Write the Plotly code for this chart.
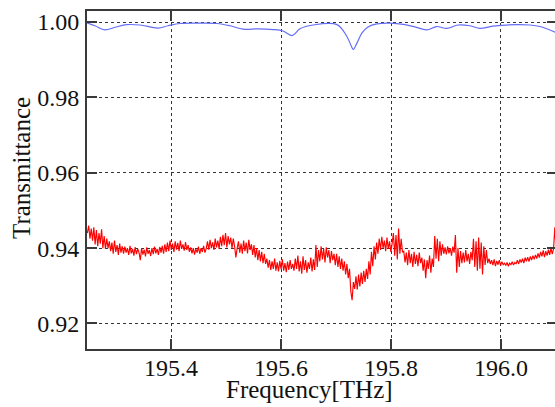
import plotly.graph_objects as go

# ---------------- data ----------------
blue_freq = [195.2466, 195.2612, 195.2794, 195.2976, 195.3194, 195.3430, 195.3758, 195.3940,
             195.4158, 195.4522, 195.4832, 195.5068, 195.5305, 195.5578, 195.5851, 195.6033,
             195.6197, 195.6342, 195.6579, 195.7016, 195.7198, 195.7279, 195.7312, 195.7379,
             195.7471, 195.7580, 195.7744, 195.7980, 195.8253, 195.8435, 195.8648, 195.8830,
             195.9012, 195.9218, 195.9436, 195.9618, 195.9854, 196.0286, 196.0528, 196.0710,
             196.0983]
blue_T = [0.9998, 0.9990, 0.9979, 0.9986, 0.9993, 0.9992, 0.9984, 0.9990,
          0.9996, 0.9997, 0.9996, 0.9990, 0.9981, 0.9982, 0.9980, 0.9976,
          0.9964, 0.9982, 0.9992, 0.9993, 0.9961, 0.9935, 0.9927, 0.9944,
          0.9971, 0.9987, 0.9995, 0.9997, 0.9993, 0.9987, 0.9979, 0.9988,
          0.9983, 0.9992, 0.9990, 0.9983, 0.9989, 0.9993, 0.9992, 0.9988,
          0.9973]

red_freq_start = 195.2473
red_freq_step = 0.00235
red_T = [
    0.9440, 0.9460, 0.9425, 0.9452, 0.9420,
    0.9455, 0.9410, 0.9448, 0.9405, 0.9440, 0.9412, 0.9450, 0.9400,
    0.9432, 0.9398, 0.9425, 0.9400, 0.9418,
    0.9392, 0.9415, 0.9385, 0.9420, 0.9390, 0.9408, 0.9382, 0.9412, 0.9388, 0.9405,
    0.9385, 0.9404, 0.9388, 0.9400, 0.9382, 0.9406, 0.9386, 0.9398, 0.9380, 0.9403, 0.9384, 0.9398, 0.9388,
    0.9368,
    0.9400, 0.9383, 0.9396, 0.9378, 0.9402, 0.9385, 0.9395, 0.9379, 0.9400, 0.9384,
    0.9404, 0.9386, 0.9398, 0.9382, 0.9403, 0.9388, 0.9406, 0.9385, 0.9410, 0.9390,
    0.9415, 0.9392, 0.9420, 0.9395, 0.9412, 0.9390, 0.9418, 0.9396, 0.9414, 0.9392,
    0.9420, 0.9398, 0.9410, 0.9393, 0.9416, 0.9395, 0.9408, 0.9390,
    0.9402, 0.9386, 0.9400, 0.9383, 0.9398, 0.9388, 0.9404, 0.9385, 0.9400, 0.9390,
    0.9406, 0.9388, 0.9398,
    0.9418, 0.9396, 0.9422, 0.9400, 0.9415, 0.9395, 0.9425, 0.9402, 0.9420, 0.9398,
    0.9430, 0.9405, 0.9435, 0.9408, 0.9440, 0.9402, 0.9432, 0.9410, 0.9428, 0.9400, 0.9425, 0.9405,
    0.9375, 0.9400,
    0.9418, 0.9388, 0.9412, 0.9385, 0.9420, 0.9392, 0.9415, 0.9386, 0.9422, 0.9395, 0.9410,
    0.9382, 0.9408, 0.9375, 0.9400, 0.9368, 0.9395, 0.9365, 0.9390, 0.9360, 0.9385, 0.9358,
    0.9372, 0.9348, 0.9368, 0.9342, 0.9365, 0.9345, 0.9372, 0.9340, 0.9362, 0.9338,
    0.9366, 0.9344, 0.9370, 0.9340, 0.9360, 0.9336, 0.9364, 0.9342, 0.9368, 0.9345, 0.9358,
    0.9340, 0.9372, 0.9345, 0.9380, 0.9338, 0.9365, 0.9332, 0.9378, 0.9342, 0.9368,
    0.9335, 0.9362, 0.9345, 0.9375, 0.9338, 0.9370, 0.9342, 0.9408, 0.9350, 0.9395,
    0.9365, 0.9405, 0.9370, 0.9398, 0.9362, 0.9402, 0.9375, 0.9395, 0.9360, 0.9392, 0.9368, 0.9385,
    0.9355, 0.9385, 0.9350, 0.9378, 0.9345, 0.9372, 0.9340, 0.9365, 0.9330, 0.9358,
    0.9320, 0.9345, 0.9285, 0.9262, 0.9310, 0.9292,
    0.9325, 0.9290, 0.9330, 0.9298, 0.9335, 0.9305, 0.9340, 0.9310, 0.9345, 0.9318,
    0.9365, 0.9330, 0.9390, 0.9352, 0.9405, 0.9370, 0.9415, 0.9385,
    0.9425, 0.9395, 0.9430, 0.9400, 0.9420, 0.9392, 0.9428, 0.9398, 0.9418, 0.9390, 0.9412,
    0.9440, 0.9380, 0.9435, 0.9370, 0.9452, 0.9385, 0.9425, 0.9390,
    0.9392, 0.9362, 0.9388, 0.9355, 0.9395, 0.9360, 0.9385, 0.9350, 0.9390, 0.9358,
    0.9382, 0.9352, 0.9388, 0.9360,
    0.9375, 0.9340, 0.9370, 0.9320, 0.9368, 0.9345, 0.9380, 0.9335, 0.9372, 0.9350,
    0.9432, 0.9372, 0.9425, 0.9365, 0.9418, 0.9380, 0.9410, 0.9385,
    0.9402, 0.9383, 0.9405, 0.9386, 0.9400, 0.9380, 0.9404, 0.9388,
    0.9435, 0.9335, 0.9400, 0.9350,
    0.9392, 0.9360, 0.9388, 0.9362, 0.9395, 0.9365, 0.9385, 0.9358, 0.9390, 0.9368,
    0.9425, 0.9350, 0.9418, 0.9340, 0.9428, 0.9345, 0.9415, 0.9330, 0.9405, 0.9355, 0.9395, 0.9360,
    0.9372, 0.9358, 0.9368, 0.9355, 0.9370, 0.9352, 0.9366, 0.9356, 0.9368, 0.9354, 0.9364, 0.9356,
    0.9360, 0.9354, 0.9362, 0.9352, 0.9360, 0.9356, 0.9364, 0.9355, 0.9362, 0.9358,
    0.9368, 0.9358, 0.9370, 0.9362, 0.9372, 0.9360, 0.9375, 0.9365,
    0.9376, 0.9364, 0.9378, 0.9368, 0.9380, 0.9370, 0.9382, 0.9372,
    0.9386, 0.9375, 0.9390, 0.9378, 0.9394, 0.9376, 0.9392, 0.9380, 0.9396, 0.9382, 0.9400, 0.9384, 0.9398,
    0.9455,
    0.9392, 0.9410,
]
red_freq = [red_freq_start + i * red_freq_step for i in range(len(red_T))]

x_ticks = [195.4, 195.6, 195.8, 196.0]
x_tick_labels = ["195.4", "195.6", "195.8", "196.0"]
y_ticks = [0.92, 0.94, 0.96, 0.98, 1.00]
y_tick_labels = ["0.92", "0.94", "0.96", "0.98", "1.00"]

x_title = "Frequency[THz]"
y_title = "Transmittance"

# ---------------- figure ----------------
FONT = "Liberation Serif, Times New Roman, serif"
AX = "#3a3a3a"
GRID = "#333333"
TXT = "#111111"
x_range = [195.2466, 196.0983]
y_range = [0.91323, 1.00292]

fig = go.Figure()
fig.add_trace(go.Scatter(x=red_freq, y=red_T, mode="lines",
                         line=dict(color="#ff0000", width=1.15), showlegend=False))
fig.add_trace(go.Scatter(x=blue_freq, y=blue_T, mode="lines", line_shape="spline",
                         line=dict(color="rgb(100,110,245)", width=1.2), showlegend=False))
fig.add_trace(go.Scatter(x=[], y=[], yaxis="y2", showlegend=False))

annotations = [
    dict(text=t, x=v, xref="x", yref="paper", y=-0.0562,
         xanchor="center", yanchor="middle", showarrow=False,
         font=dict(family=FONT, size=24, color=TXT))
    for v, t in zip(x_ticks, x_tick_labels)
]
annotations += [
    dict(text=x_title, xref="paper", yref="paper", x=0.4744, y=-0.1213,
         xanchor="center", yanchor="middle", showarrow=False,
         font=dict(family=FONT, size=25, color=TXT)),
    dict(text=y_title, xref="paper", yref="paper", x=-0.14, y=0.537,
         xanchor="center", yanchor="middle", showarrow=False, textangle=-90,
         font=dict(family=FONT, size=25, color=TXT)),
]

fig.update_layout(
    width=555, height=407,
    margin=dict(l=87, r=0, t=11, b=58),
    paper_bgcolor="white", plot_bgcolor="white",
    font=dict(family=FONT, size=24, color=TXT),
    xaxis=dict(range=x_range, tickvals=x_ticks, showticklabels=False,
               showline=True, linecolor=AX, linewidth=2, mirror="ticks",
               ticks="inside", ticklen=10, tickwidth=2, tickcolor=AX,
               showgrid=True, gridcolor=GRID, gridwidth=1.3, griddash="dot",
               zeroline=False),
    yaxis=dict(range=y_range, tickvals=y_ticks, ticktext=y_tick_labels,
               showline=True, linecolor=AX, linewidth=2, mirror=False,
               ticks="inside", ticklen=10, tickwidth=2, tickcolor=AX,
               showgrid=True, gridcolor=GRID, gridwidth=1.3, griddash="dot",
               zeroline=False, ticklabelstandoff=1,
               tickfont=dict(family=FONT, size=24, color=TXT)),
    yaxis2=dict(range=y_range, overlaying="y", side="right", anchor="x",
                tickvals=y_ticks, showticklabels=False, showline=False,
                ticks="inside", ticklen=8, tickwidth=2, tickcolor=AX,
                showgrid=False, zeroline=False),
    annotations=annotations,
)

fig.write_html("out.html")
